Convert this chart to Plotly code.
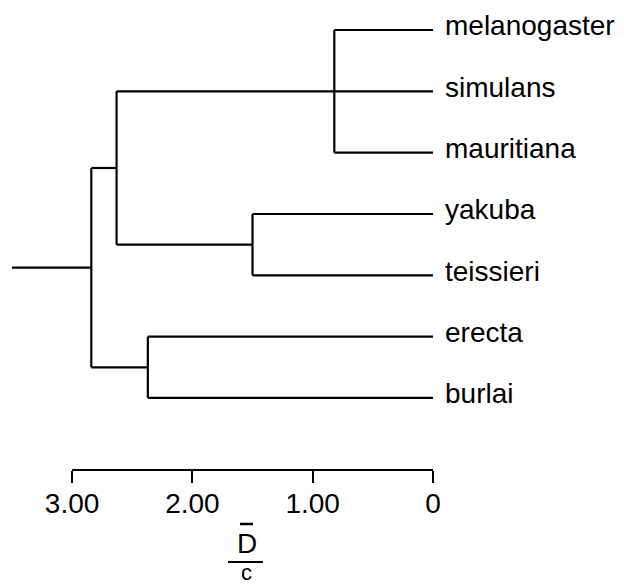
import plotly.graph_objects as go

# ---- data ----
species = ["melanogaster", "simulans", "mauritiana", "yakuba", "teissieri", "erecta", "burlai"]
leaf_pos = [0, 1, 2, 3, 4, 5, 6]

# clade heights (D/c)
h_mel_sim_mau = 0.82
h_yak_teis = 1.50
h_melgrp_yakgrp = 2.63
h_ere_bur = 2.37
h_root = 2.84
root_stub = 3.50

tick_vals = [3, 2, 1, 0]
tick_text = ["3.00", "2.00", "1.00", "0"]

# tree structure: (height, children); leaves are indices
tree = (h_root, [
    (h_melgrp_yakgrp, [
        (h_mel_sim_mau, [0, 1, 2]),
        (h_yak_teis, [3, 4]),
    ]),
    (h_ere_bur, [5, 6]),
])

xs, ys = [], []


def layout_node(node):
    """Return (height, y) for the node and append its segments."""
    if isinstance(node, int):
        return 0.0, leaf_pos[node]
    h, children = node
    child_info = [layout_node(c) for c in children]
    cy = [c[1] for c in child_info]
    y = (min(cy) + max(cy)) / 2
    xs.extend([h, h, None])
    ys.extend([min(cy), max(cy), None])
    for ch, cyy in child_info:
        xs.extend([h, ch, None])
        ys.extend([cyy, cyy, None])
    return h, y


rh, ry = layout_node(tree)
xs.extend([root_stub, rh, None])
ys.extend([ry, ry, None])

W, H = 624, 586
FONT = "Liberation Sans"

fig = go.Figure()
# invisible helper trace for the scale axis (drawn first)
fig.add_trace(go.Scatter(x=[3, 0], y=[0, 0], xaxis="x2", yaxis="y", mode="lines",
                         line=dict(width=0, color="rgba(0,0,0,0)"),
                         hoverinfo="skip", showlegend=False))
fig.add_trace(go.Scatter(x=xs, y=ys, mode="lines",
                         line=dict(color="black", width=2.2),
                         hoverinfo="skip", showlegend=False))

annotations = []
for name, p in zip(species, leaf_pos):
    annotations.append(dict(x=0, y=p, xref="x", yref="y", text=name,
                            showarrow=False, xanchor="left", yanchor="middle",
                            xshift=10, yshift=4,
                            font=dict(family=FONT, size=28, color="black")))

# axis title D-bar over c
annotations.append(dict(x=247 / W, y=1 - 560 / H, xref="paper", yref="paper", text="D",
                        showarrow=False, xanchor="center", yanchor="bottom",
                        borderpad=0,
                        font=dict(family=FONT, size=28, color="black")))
annotations.append(dict(x=246 / W, y=0, xref="paper", yref="paper", text="c",
                        showarrow=False, xanchor="center", yanchor="bottom",
                        borderpad=0,
                        font=dict(family=FONT, size=22, color="black")))

shapes = [
    dict(type="line", xref="paper", yref="paper", x0=240 / W, x1=253 / W,
         y0=1 - 524 / H, y1=1 - 524 / H, line=dict(color="black", width=2.5)),
    dict(type="line", xref="paper", yref="paper", x0=228 / W, x1=263 / W,
         y0=1 - 562 / H, y1=1 - 562 / H, line=dict(color="black", width=2)),
]

fig.update_layout(
    width=W, height=H,
    margin=dict(l=0, r=0, t=0, b=0, autoexpand=False),
    plot_bgcolor="rgba(0,0,0,0)", paper_bgcolor="white",
    showlegend=False,
    xaxis=dict(range=[3.599, -1.588], visible=False, domain=[0, 1]),
    yaxis=dict(range=[9.066, -0.489], visible=False, domain=[0, 1]),
    xaxis2=dict(domain=[72.1 / W, 433.0 / W], range=[3, 0], anchor="free",
                position=1 - 470 / H, showline=True, linecolor="black", linewidth=2,
                ticks="outside", ticklen=12, tickwidth=2, tickcolor="black",
                tickvals=tick_vals, ticktext=tick_text, automargin=False,
                ticklabelstandoff=-4,
                tickfont=dict(family=FONT, size=28, color="black"),
                showgrid=False, zeroline=False),
    annotations=annotations,
    shapes=shapes,
)

fig.write_html("out.html")
